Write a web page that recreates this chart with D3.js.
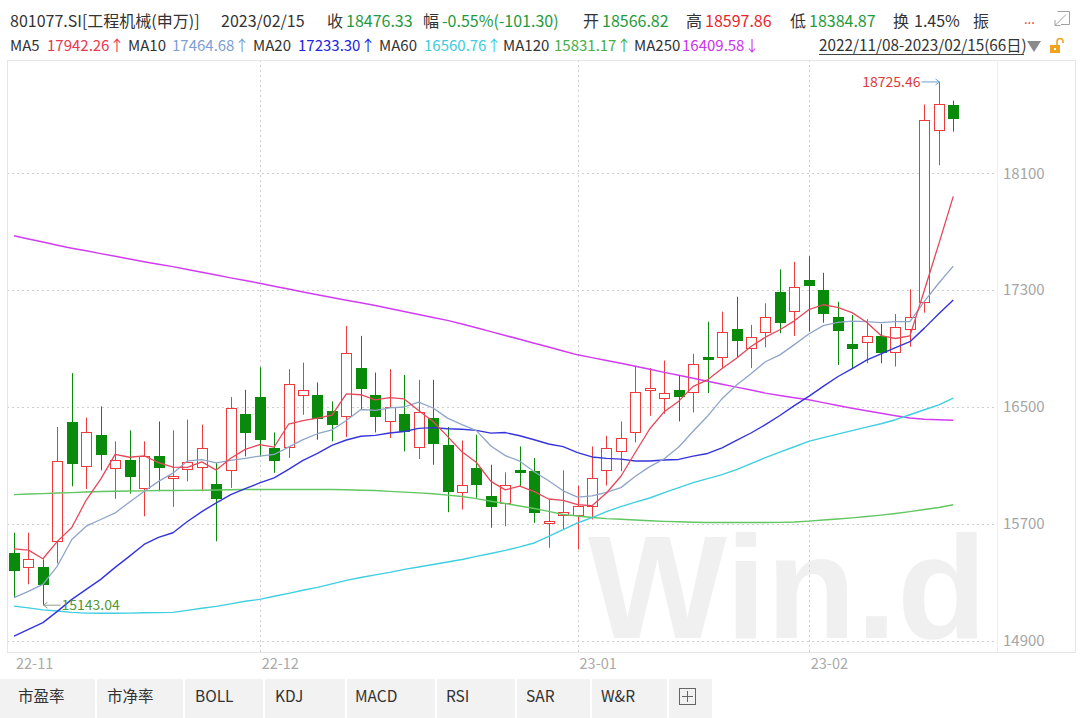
<!DOCTYPE html>
<html><head><meta charset="utf-8">
<script src="https://cdn.jsdelivr.net/npm/d3@7/dist/d3.min.js"></script>
<style>
body{margin:0;background:#fff;}
svg{display:block;font-family:"Noto Sans CJK SC","Noto Sans",sans-serif;}
</style>
</head><body>
<svg id="c" width="1080" height="718"></svg>
<script>
// ---------------- DATA ----------------
const dates = [
"2022-11-08","2022-11-09","2022-11-10","2022-11-11","2022-11-14","2022-11-15","2022-11-16","2022-11-17","2022-11-18",
"2022-11-21","2022-11-22","2022-11-23","2022-11-24","2022-11-25","2022-11-28","2022-11-29","2022-11-30",
"2022-12-01","2022-12-02","2022-12-05","2022-12-06","2022-12-07","2022-12-08","2022-12-09","2022-12-12","2022-12-13",
"2022-12-14","2022-12-15","2022-12-16","2022-12-19","2022-12-20","2022-12-21","2022-12-22","2022-12-23","2022-12-26",
"2022-12-27","2022-12-28","2022-12-29","2022-12-30",
"2023-01-03","2023-01-04","2023-01-05","2023-01-06","2023-01-09","2023-01-10","2023-01-11","2023-01-12","2023-01-13",
"2023-01-16","2023-01-17","2023-01-18","2023-01-19","2023-01-20","2023-01-30","2023-01-31",
"2023-02-01","2023-02-02","2023-02-03","2023-02-06","2023-02-07","2023-02-08","2023-02-09","2023-02-10","2023-02-13",
"2023-02-14","2023-02-15"];
const openV = [15502,15404,15404,15581,16394,16090,16310,16083,16140,15946,16162,16008,16076,16090,15976,16071,16454,
16568,16219,16226,16577,16583,16476,16440,16766,16583,16401,16454,16226,16428,16242,15923,16083,15894,15844,16070,16060,
15705,15764,15764,15825,16066,16196,16333,16615,16568,16618,16606,16841,16845,17032,16903,17009,17289,17153,17369,17301,
17114,16930,16943,16987,16879,17039,17214,18399,18566.82];
const highV = [15639,15639,15456,16363,16732,16428,16504,16265,16340,16265,16401,16340,16413,16379,16117,16568,16618,
16773,16326,16759,16804,16668,16538,17055,16987,16736,16759,16720,16686,16686,16363,16271,16310,16105,16053,16230,16151,
15866,16066,15962,16230,16303,16401,16782,16766,16818,16720,16864,17084,17153,17255,17062,17210,17442,17494,17533,17419,
17221,17130,17101,17069,17137,17306,18571,18725.46,18597.86];
const lowV = [15195,15286,15143.04,15429,15957,15939,16066,15871,15907,15752,15923,15816,15991,15923,15581,15946,16162,
16162,16049,16151,16447,16276,16265,16295,16481,16326,16288,16196,16144,16105,15780,15798,15878,15673,15684,15957,15707,
15536,15657,15525,15730,15962,16060,16258,16440,16454,16401,16463,16595,16766,16841,16766,16909,17005,16987,17016,17077,
16788,16766,16800,16800,16777,16913,17146,18155,18384.87];
const closeV = [15388,15461,15286,16128,16112,16326,16178,16135,16030,16162,16090,16025,16124,16219,15882,16493,16333,
16283,16140,16659,16613,16424,16385,16868,16629,16440,16500,16340,16469,16258,15930,15969,15973,15825,15969,16058,15780,
15717,15782,15825,16014,16219,16288,16606,16628,16599,16579,16795,16827,17016,16954,16978,17114,17084,17319,17335,17146,
17028,16903,16987,16879,17050,17118,18462,18577.63,18476.33];

const ma5 = [15529,15520,15461,15580,15675,15863,16006,16176,16156,16166,16119,16088,16086,16124,16068,16149,16210,
16242,16226,16382,16406,16424,16444,16590,16584,16549,16564,16555,16476,16401,16299,16193,16120,15991,15933,15959,15921,
15870,15861,15832,15824,15911,16026,16190,16351,16468,16540,16641,16686,16763,16834,16914,16978,17029,17090,17166,17200,
17182,17146,17080,16989,16969,16987,17299,17617,17942.26];
const ma10 = [15195,15238,15286,15411,15593,15684,15730,15775,15850,15921,15991,16047,16131,16140,16117,16134,16149,
16164,16175,16225,16277,16317,16343,16408,16483,16477,16494,16500,16533,16493,16424,16379,16338,16233,16167,16129,16057,
15995,15926,15883,15891,15916,15948,16026,16092,16146,16226,16334,16438,16557,16651,16727,16810,16857,16927,17000,17057,
17080,17088,17085,17077,17085,17085,17223,17349,17464.68];
const ma20 = [14932,14978,15024,15101,15183,15251,15320,15402,15479,15559,15607,15639,15716,15784,15844,15900,15941,
15980,16015,16073,16134,16182,16237,16274,16300,16306,16322,16332,16354,16359,16351,16348,16340,16321,16325,16303,16276,
16247,16229,16188,16158,16148,16143,16130,16130,16137,16141,16164,16182,16220,16271,16322,16379,16442,16509,16573,16641,
16707,16763,16821,16864,16906,16947,17040,17138,17233.30];
const ma60 = [15137,15125,15111,15103,15094,15089,15088,15088,15089,15091,15092,15094,15108,15122,15135,15152,15170,
15183,15204,15224,15245,15265,15289,15313,15333,15351,15368,15388,15405,15422,15439,15456,15477,15497,15518,15542,15569,
15614,15661,15706,15743,15784,15818,15849,15877,15914,15948,15982,16010,16037,16071,16112,16153,16191,16228,16265,16290,
16314,16338,16362,16385,16413,16447,16481,16515,16560.76];
const ma120 = [15900,15904,15907,15911,15914,15918,15921,15923,15925,15926,15928,15928,15929,15930,15932,15933,15935,
15935,15935,15935,15935,15935,15935,15933,15930,15928,15922,15917,15912,15906,15897,15887,15873,15855,15839,15822,15805,
15785,15764,15754,15743,15736,15732,15726,15721,15717,15714,15711,15709,15709,15709,15709,15709,15710,15713,15719,15726,
15733,15741,15750,15760,15771,15784,15798,15812,15831.17];
const ma250 = [17672,17650,17629,17607,17587,17569,17550,17532,17514,17495,17477,17461,17442,17422,17403,17384,17366,
17347,17327,17308,17288,17269,17250,17231,17213,17195,17175,17154,17133,17113,17093,17068,17042,17016,16990,16964,16937,
16911,16884,16857,16838,16818,16799,16779,16758,16737,16717,16697,16676,16656,16636,16616,16595,16579,16564,16549,16530,
16511,16491,16474,16457,16440,16424,16416,16413,16409.58];

const yTicks = [14900,15700,16500,17300,18100];
const monthTickDates = ["2022-11-08","2022-12-01","2023-01-03","2023-02-01"];
const monthTickLabels = ["22-11","22-12","23-01","23-02"];
const tabLabels = ["市盈率","市净率","BOLL","KDJ","MACD","RSI","SAR","W&R"];

// ---------------- STYLE ----------------
const RED = "#ee3a3a", GREEN = "#0a8a0a";
const maDefs = [
  {name:"MA250", vals:ma250, color:"#d13cf2", w:1.5},
  {name:"MA120", vals:ma120, color:"#62c662", w:1.4},
  {name:"MA60",  vals:ma60,  color:"#3fcfe0", w:1.4},
  {name:"MA20",  vals:ma20,  color:"#3434dc", w:1.4},
  {name:"MA10",  vals:ma10,  color:"#8ea5c8", w:1.3},
  {name:"MA5",   vals:ma5,   color:"#e5485a", w:1.3}
];

const svg = d3.select("#c");
const P = {l:7, r:997, t:60, b:652};

const x = d3.scaleBand().domain(dates).range([6.78, 960.5]).padding(0);
const bw = x.bandwidth();
const cx = d => x(d) + bw/2;
const y = d3.scaleLinear().domain([14900,18100]).range([640.7,173.3]);

// frame
svg.append("rect").attr("x",P.l+0.5).attr("y",P.t+0.5).attr("width",1075-P.l).attr("height",P.b-P.t)
  .attr("fill","none").attr("stroke","#e6e6e6");
svg.append("line").attr("x1",P.r+0.5).attr("x2",P.r+0.5).attr("y1",P.t).attr("y2",P.b).attr("stroke","#eeeeee");

const defs = svg.append("defs");
defs.append("clipPath").attr("id","plotclip").append("rect")
  .attr("x",P.l+1).attr("y",P.t+1).attr("width",P.r-P.l-1).attr("height",P.b-P.t-1);
const plot = svg.append("g").attr("clip-path","url(#plotclip)");

// watermark (logo text used as a mask over the plot area)
const wm = defs.append("mask").attr("id","wmask").attr("maskUnits","userSpaceOnUse")
  .attr("x",P.l).attr("y",P.t).attr("width",P.r-P.l).attr("height",P.b-P.t);
wm.append("text").attr("x",588).attr("y",638).text("Win.d")
  .attr("font-family","'Liberation Sans',Arial,sans-serif").attr("font-weight","bold")
  .attr("font-size",147).attr("fill","#ffffff");
plot.append("rect").attr("x",P.l).attr("y",P.t).attr("width",P.r-P.l).attr("height",P.b-P.t)
  .attr("fill","#f0f0f0").attr("mask","url(#wmask)");

// horizontal grid
plot.selectAll("line.hg").data(yTicks).join("line").attr("class","hg")
  .attr("x1",P.l).attr("x2",P.r).attr("y1",d=>Math.round(y(d))+0.5).attr("y2",d=>Math.round(y(d))+0.5)
  .attr("stroke","#cfcfcf").attr("stroke-dasharray","2,3");
// vertical month grid
plot.selectAll("line.vg").data(monthTickDates.slice(1)).join("line").attr("class","vg")
  .attr("x1",d=>Math.round(cx(d))+0.5).attr("x2",d=>Math.round(cx(d))+0.5).attr("y1",P.t).attr("y2",P.b)
  .attr("stroke","#cfcfcf").attr("stroke-dasharray","2,3");

// candles
const candles = dates.map((d,i)=>({d,o:openV[i],h:highV[i],l:lowV[i],c:closeV[i]}));
const cg = plot.append("g");
cg.selectAll("line").data(candles).join("line")
  .attr("x1",d=>Math.round(cx(d.d))+0.5).attr("x2",d=>Math.round(cx(d.d))+0.5)
  .attr("y1",d=>y(d.h)).attr("y2",d=>y(d.l))
  .attr("stroke",d=>d.c>=d.o?RED:GREEN).attr("stroke-width",1);
cg.selectAll("rect").data(candles).join("rect")
  .attr("x",d=>Math.round(cx(d.d))-4.5).attr("width",10)
  .attr("y",d=>Math.round(y(Math.max(d.o,d.c)))+0.5)
  .attr("height",d=>Math.max(1,Math.round(Math.abs(y(d.o)-y(d.c)))))
  .attr("fill",d=>d.c>=d.o?"#ffffff":GREEN)
  .attr("stroke",d=>d.c>=d.o?RED:GREEN).attr("stroke-width",1);

// MA lines
const lineGen = vals => d3.line().x((d,i)=>cx(dates[i])).y(d=>y(d))(vals);
plot.selectAll("path.ma").data(maDefs).join("path").attr("class","ma")
  .attr("d",m=>lineGen(m.vals)).attr("fill","none")
  .attr("stroke",m=>m.color).attr("stroke-width",m=>m.w).attr("stroke-linejoin","round");

// max / min annotations
const iMax = highV.indexOf(d3.max(highV)), iMin = lowV.indexOf(d3.min(lowV));
{
  const px = Math.round(cx(dates[iMax]))+0.5, py = y(highV[iMax]);
  plot.append("path").attr("d",`M${px-18},${py}H${px}`).attr("stroke","#6a9fcf").attr("fill","none");
  plot.append("path").attr("d",`M${px-4},${py-3}L${px},${py}L${px-4},${py+3}`).attr("stroke","#6a9fcf").attr("fill","none");
  plot.append("text").attr("x",px-19).attr("y",py).attr("dy","0.35em").attr("text-anchor","end")
    .attr("font-size",14).attr("fill","#e03a3a").text(d3.format(".2f")(highV[iMax]));
}
{
  const px = Math.round(cx(dates[iMin]))+0.5, py = y(lowV[iMin]);
  plot.append("path").attr("d",`M${px},${py}H${px+17}`).attr("stroke","#8aa08a").attr("fill","none");
  plot.append("path").attr("d",`M${px+4},${py-3}L${px},${py}L${px+4},${py+3}`).attr("stroke","#8aa08a").attr("fill","none");
  plot.append("text").attr("x",px+18).attr("y",py).attr("dy","0.35em").attr("text-anchor","start")
    .attr("font-size",14).attr("fill","#4f9a35").text(d3.format(".2f")(lowV[iMin]));
}

// y axis (right)
const yAxis = d3.axisRight(y).tickValues(yTicks).tickSize(0).tickPadding(6).tickFormat(d3.format("d"));
const ya = svg.append("g").attr("transform",`translate(${P.r},0)`).call(yAxis);
ya.select(".domain").remove();
ya.selectAll("text").attr("fill","#a5a5a5").attr("font-size",15).attr("font-family","'Noto Sans CJK SC','Noto Sans',sans-serif");

// x axis
const xAxis = d3.axisBottom(x).tickValues(monthTickDates).tickSize(0)
  .tickFormat(d=>monthTickLabels[monthTickDates.indexOf(d)]);
const xa = svg.append("g").attr("transform",`translate(0,${P.b})`).call(xAxis);
xa.select(".domain").remove();
xa.selectAll("text").attr("fill","#aaaaaa").attr("font-size",14.5).attr("text-anchor","start")
  .attr("x",2).attr("dy","0").attr("y",17).attr("font-family","'Noto Sans CJK SC','Noto Sans',sans-serif");

// ---------------- HEADER ----------------
const H = svg.append("g").attr("font-size",16);
const t = (xx,yy,s,col,fs)=>H.append("text").attr("x",xx).attr("y",yy).attr("dy","0.35em").attr("fill",col)
  .attr("font-size",fs||16).text(s);
const TX="#333333", HG="#1f9a3c", HR="#e8262b";
t(10,21,"801077.SI[工程机械(申万)]",TX);
t(221,21,"2023/02/15",TX);
t(327,21,"收",TX); t(346,21,"18476.33",HG);
t(423,21,"幅",TX); t(442,21,"-0.55%(-101.30)",HG);
t(583,21,"开",TX); t(602,21,"18566.82",HG);
t(686,21,"高",TX); t(705,21,"18597.86",HR);
t(790,21,"低",TX); t(809,21,"18384.87",HG);
t(893,21,"换",TX); t(914,21,"1.45%",TX);
t(973,21,"振",TX);
t(1024,19,"...",HR,13);
// popout icon
H.append("path").attr("d","M1057.5,11.5H1069.5V24.5H1061").attr("fill","none").attr("stroke","#a0a0a0");
H.append("path").attr("d","M1066,14.5L1055,25.5M1055,20V25.5H1060.5").attr("fill","none").attr("stroke","#a0a0a0");

const maTexts = [
  [10,"MA5",47,"17942.26↑","#e8384f"],
  [128,"MA10",172,"17464.68↑","#7e9fd2"],
  [253,"MA20",298,"17233.30↑","#2222e0"],
  [379,"MA60",424,"16560.76↑","#3ccde0"],
  [503,"MA120",554,"15831.17↑","#45b045"],
  [634,"MA250",682,"16409.58↓","#cc33ee"]
];
maTexts.forEach(m=>{ t(m[0],46,m[1],TX,15); t(m[2],46,m[3],m[4],15); });
t(819,46,"2022/11/08-2023/02/15(66日)",TX,15.3);
H.append("line").attr("x1",819).attr("x2",1024).attr("y1",54.5).attr("y2",54.5).attr("stroke","#444");
H.append("path").attr("d","M1027,41H1041L1034,52Z").attr("fill","#8a8a8a");
// lock
H.append("rect").attr("x",1050).attr("y",45).attr("width",10).attr("height",8).attr("fill","#f2a31d");
H.append("path").attr("d","M1057,45V41.5a3,3 0 0 1 6,0V43").attr("fill","none").attr("stroke","#f2a31d").attr("stroke-width",1.6);
H.append("rect").attr("x",1054).attr("y",48).attr("width",2).attr("height",2).attr("fill","#fff");

// ---------------- TABS ----------------
const tabEdges = [0,95,183,263,345,435,515,590,667,712];
const tabs = svg.append("g");
tabs.append("rect").attr("x",0).attr("y",679).attr("width",712).attr("height",39).attr("fill","#f2f2f2");
tabs.selectAll("rect.sep").data(tabEdges.slice(1,-1)).join("rect").attr("class","sep")
  .attr("x",d=>d).attr("y",679).attr("width",2).attr("height",39).attr("fill","#ffffff");
const tabTextX = [18,107,195,275,355,446,526,601];
tabs.selectAll("text").data(tabLabels).join("text")
  .attr("x",(d,i)=>tabTextX[i]).attr("y",697).attr("dy","0.35em").attr("font-size",15.5).attr("fill","#333").text(d=>d);
// plus box
tabs.append("rect").attr("x",679.5).attr("y",688.5).attr("width",16).attr("height",16).attr("fill","none").attr("stroke","#666");
tabs.append("path").attr("d","M687.5,691V702M682,696.5H693").attr("stroke","#666");
</script>
</body></html>
